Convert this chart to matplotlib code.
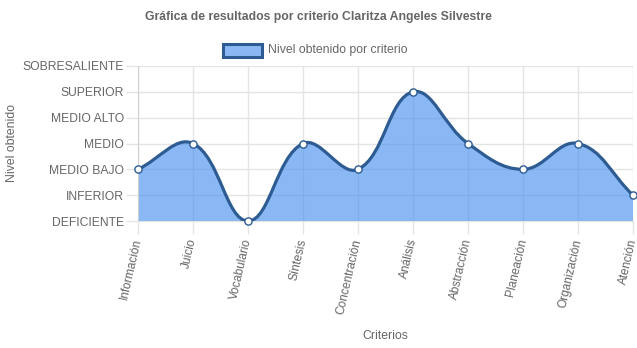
import numpy as np
import matplotlib
matplotlib.use("Agg")
import matplotlib.pyplot as plt
from matplotlib.path import Path
from matplotlib.patches import PathPatch, Rectangle

plt.rcParams['font.family'] = ['Liberation Sans', 'DejaVu Sans']

criterios = ["Información", "Juicio", "Vocabulario", "Síntesis", "Concentración",
             "Análisis", "Abstracción", "Planeación", "Organización", "Atención"]
niveles = ["DEFICIENTE", "INFERIOR", "MEDIO BAJO", "MEDIO", "MEDIO ALTO",
           "SUPERIOR", "SOBRESALIENTE"]
valores = [2, 3, 0, 3, 2, 5, 3, 2, 3, 1]

W, H = 637, 348
grey = "#666666"
grid_c = "#e4e4e4"
line_c = "#2d5b92"
fill_c = (60/255, 138/255, 238/255, 0.6)

fig = plt.figure(figsize=(W/100, H/100), dpi=100)
ax = fig.add_axes([138/W, 1-221/H, (633-138)/W, (221-66)/H])
ax.set_xlim(0, len(criterios)-1)
ax.set_ylim(0, len(niveles)-1)

# Chart.js style spline (tension 0.4) computed in pixel space
x = np.arange(len(valores), dtype=float)
y = np.array(valores, dtype=float)
pts = ax.transData.transform(np.column_stack([x, y]))
bb = ax.bbox
n = len(pts)
t = 0.4
cp_prev, cp_next = [], []
for i in range(n):
    prev = pts[max(i-1, 0)]
    cur = pts[i]
    nxt = pts[min(i+1, n-1)]
    d01 = np.hypot(*(cur-prev))
    d12 = np.hypot(*(nxt-cur))
    tot = d01 + d12
    s01 = d01/tot if tot else 0
    s12 = d12/tot if tot else 0
    a = cur - t*s01*(nxt-prev)
    b = cur + t*s12*(nxt-prev)
    for p in (a, b):
        p[0] = min(max(p[0], bb.x0), bb.x1)
        p[1] = min(max(p[1], bb.y0), bb.y1)
    cp_prev.append(a)
    cp_next.append(b)

verts = [pts[0]]
codes = [Path.MOVETO]
for i in range(n-1):
    verts += [cp_next[i], cp_prev[i+1], pts[i+1]]
    codes += [Path.CURVE4]*3
inv = ax.transData.inverted()
verts_d = inv.transform(np.array(verts))

curve = Path(verts_d, codes)
fill_verts = np.vstack([verts_d, [[x[-1], 0], [x[0], 0], verts_d[0]]])
fill_codes = codes + [Path.LINETO, Path.LINETO, Path.CLOSEPOLY]
ax.add_patch(PathPatch(Path(fill_verts, fill_codes), facecolor=fill_c,
                       edgecolor='none', zorder=1))
ax.add_patch(PathPatch(curve, facecolor='none', edgecolor=line_c, lw=2.3,
                       zorder=3, capstyle='round', joinstyle='round'))
ax.plot(x, y, 'o', ms=5.2, mfc='white', mec=line_c, mew=1, zorder=4, clip_on=False)

ax.set_xticks(x)
ax.set_xticklabels(criterios, rotation=77, ha='right', va='center',
                   rotation_mode='anchor', fontsize=8.6, color=grey)
ax.set_yticks(range(len(niveles)))
ax.set_yticklabels(niveles, fontsize=8.7, color=grey)
ax.tick_params(axis='both', length=9, color=grid_c, width=1, pad=1)
ax.tick_params(axis='x', pad=4)
ax.grid(True, color=grid_c, lw=1, zorder=0)
ax.set_axisbelow(True)
for s in ax.spines.values():
    s.set_visible(False)
ax.spines['left'].set_visible(True)
ax.spines['left'].set_color("#d0d0d0")
ax.spines['bottom'].set_visible(True)
ax.spines['bottom'].set_color(grid_c)

fig.text(318/W, 1-17/H, "Gráfica de resultados por criterio Claritza Angeles Silvestre",
         ha='center', va='center', fontsize=8.8, fontweight='bold', color=grey)
fig.text(12/W, 1-143/H, "Nivel obtenido", rotation=90, ha='center', va='center',
         fontsize=8.8, color=grey)
fig.text(385/W, 1-336/H, "Criterios", ha='center', va='center', fontsize=8.8, color=grey)

# legend
fig.patches.append(Rectangle((223/W, 1-57/H), 39/W, 13/H, transform=fig.transFigure,
                             facecolor=fill_c, edgecolor=line_c, lw=2.2))
fig.text(268/W, 1-50/H, "Nivel obtenido por criterio", ha='left', va='center',
         fontsize=8.8, color=grey)

fig.savefig("out.png", dpi=100)
